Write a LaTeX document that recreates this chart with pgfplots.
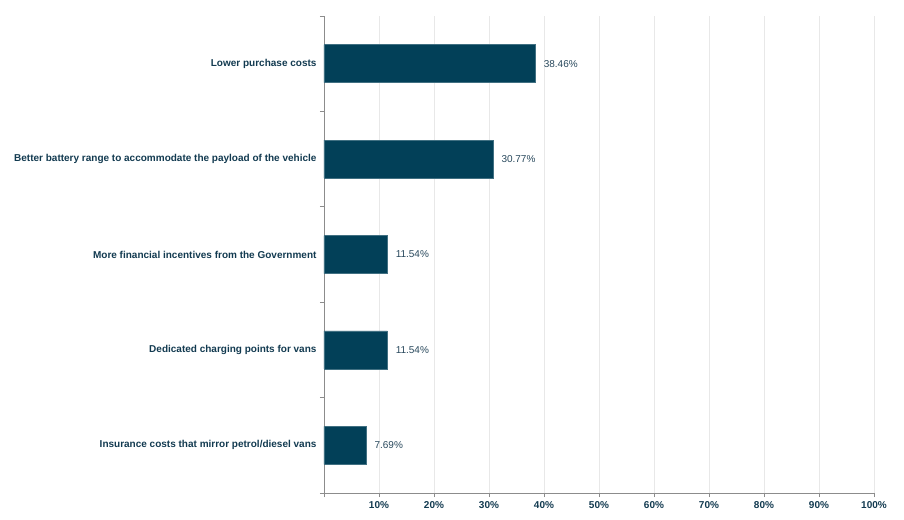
\documentclass[border=0pt]{standalone}
\usepackage{pgfplots}
\pgfplotsset{compat=1.18}
\usepackage{fontspec}
\setmainfont{Liberation Sans}
\definecolor{barc}{RGB}{2,64,88}
\definecolor{txtc}{RGB}{18,58,80}
\definecolor{valc}{RGB}{40,72,92}
\definecolor{gridc}{RGB}{232,232,232}
\definecolor{axc}{RGB}{140,140,140}
\begin{document}
\begin{tikzpicture}
\path[use as bounding box] (-324bp,-27bp) rectangle (580bp,493bp);
\begin{axis}[
  at={(0,0)}, anchor=south west,
  scale only axis, width=550bp, height=477bp,
  xmin=0, xmax=100, ymin=0.5, ymax=5.5, y dir=reverse,
  axis x line*=bottom, axis y line*=left,
  axis line style={draw=axc, line width=0.8bp},
  xtick={0,10,...,100},
  xticklabels={,10\%,20\%,30\%,40\%,50\%,60\%,70\%,80\%,90\%,100\%},
  xmajorgrids, grid style={draw=gridc, line width=0.8bp},
  tick align=outside, major tick length=4bp,
  tick style={draw=axc, line width=0.8bp},
  ytick={0.5,1.5,2.5,3.5,4.5,5.5}, yticklabels={},
  extra y ticks={1,2,3,4,5},
  extra y tick labels={Lower purchase costs,Better battery range to accommodate the payload of the vehicle,More financial incentives from the Government,Dedicated charging points for vans,Insurance costs that mirror petrol/diesel vans},
  extra y tick style={major tick length=0pt, grid=none},
  ticklabel style={font=\fontsize{10bp}{12bp}\selectfont\bfseries, text=txtc},
  yticklabel style={xshift=-4bp},
  xticklabel style={yshift=-1bp},
  /pgf/number format/assume math mode=true,
]
\addplot[xbar, bar width=38bp, fill=barc, draw=barc!75!white, line width=0.6bp,
  point meta=x,
  nodes near coords={\pgfmathprintnumber[fixed,fixed zerofill,precision=2]{\pgfplotspointmeta}\%},
  every node near coord/.append style={anchor=west, inner sep=0pt, xshift=8bp,
    font=\fontsize{10bp}{12bp}\selectfont, text=valc}]
  table {
x y
38.46 1
30.77 2
11.54 3
11.54 4
7.69 5
};
\end{axis}
\end{tikzpicture}
\end{document}
